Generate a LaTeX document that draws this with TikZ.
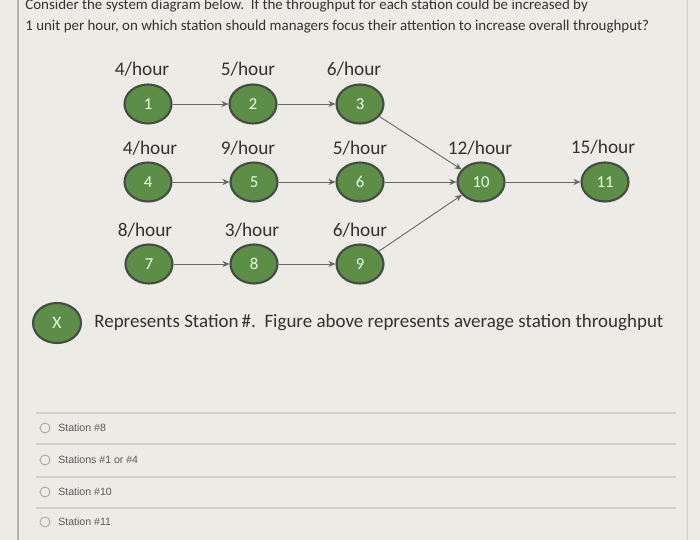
\documentclass[tikz,border=0pt]{standalone}
\usepackage{fontspec}
\setmainfont{Carlito}
\newfontfamily\optfont{Liberation Sans}
\usetikzlibrary{arrows.meta, positioning, shapes.geometric}

\definecolor{stationgreen}{RGB}{92,142,72}
\definecolor{stationrim}{RGB}{70,75,68}
\definecolor{paper}{RGB}{236,235,229}
\definecolor{ink}{RGB}{50,50,50}
\definecolor{rule}{RGB}{210,210,205}

\tikzset{
  station/.style={ellipse, draw=stationrim, line width=1.2pt, fill=stationgreen,
    minimum width=0.94cm, minimum height=0.78cm, inner sep=0pt,
    text=green!10!white, font=\fontsize{9.5}{10}\selectfont},
  rate/.style={text=ink, font=\fontsize{11}{12}\selectfont},
  flow/.style={draw=gray!80!black, line width=0.5pt, -{Stealth[length=4pt, width=3.5pt]}},
  option/.style={anchor=west, text=gray!70!black, font=\optfont\fontsize{6}{7}\selectfont},
  radio/.style={circle, draw=gray!70, line width=0.5pt, minimum size=0.2cm, inner sep=0pt}
}

\begin{document}
\begin{tikzpicture}[x=0.02cm, y=-0.02cm]

% page background and panel border
\fill[paper] (0,0) rectangle (700,540);
\useasboundingbox (0,0) rectangle (700,540);
\draw[gray!60, line width=0.8pt] (18,0) -- (18,540);
\draw[gray!40, line width=0.5pt] (687,0) -- (687,540);

% question text
\node[anchor=base west, text=ink, font=\fontsize{8.5}{11.9}\selectfont, inner sep=0pt] (question) at (25,10)
  {Consider the system diagram below.\ \ If the throughput for each station could be increased by};
\node[anchor=base west, text=ink, font=\fontsize{8.5}{11.9}\selectfont, inner sep=0pt] (question2) at (25,31)
  {1 unit per hour, on which station should managers focus their attention to increase overall throughput?};

% stations, row by row
\node[station] (s1) at (148,104) {1};
\node[station] (s2) at (253,104) {2};
\node[station] (s3) at (360,104) {3};

\node[station] (s4) at (148,182) {4};
\node[station] (s5) at (254,182) {5};
\node[station] (s6) at (360,182) {6};
\node[station] (s10) at (481,182) {10};
\node[station] (s11) at (605,182) {11};

\node[station] (s7) at (149,264) {7};
\node[station] (s8) at (254,264) {8};
\node[station] (s9) at (360,264) {9};

% throughput labels
\node[rate] (r1) at (142,69) {4/hour};
\node[rate] (r2) at (248,69) {5/hour};
\node[rate] (r3) at (354,69) {6/hour};
\node[rate] (r4) at (150,148) {4/hour};
\node[rate] (r5) at (248,148) {9/hour};
\node[rate] (r6) at (360,148) {5/hour};
\node[rate] (r10) at (480,148) {12/hour};
\node[rate] (r11) at (603,147) {15/hour};
\node[rate] (r7) at (145,230) {8/hour};
\node[rate] (r8) at (252,230) {3/hour};
\node[rate] (r9) at (360,230) {6/hour};

% flows between stations
\draw[flow] (s1) -- (s2);
\draw[flow] (s2) -- (s3);
\draw[flow] (s4) -- (s5);
\draw[flow] (s5) -- (s6);
\draw[flow] (s7) -- (s8);
\draw[flow] (s8) -- (s9);
\draw[flow] (s3) -- (s10);
\draw[flow] (s6) -- (s10);
\draw[flow] (s9) -- (s10);
\draw[flow] (s10) -- (s11);

% legend
\node[station, minimum width=0.96cm, minimum height=0.8cm, font=\fontsize{10}{11}\selectfont] (key) at (57,323) {X};
\node[anchor=west, text=ink, font=\fontsize{10.8}{12}\selectfont, inner sep=0pt] (keytext) at (94,323)
  {Represents Station\,\#.\ \ Figure above represents average station throughput};

% answer options
\foreach \y in {413,444,477,508}
  \draw[rule, line width=0.6pt] (36,\y) -- (676,\y);

\node[radio] (c1) at (45,428) {};
\node[radio] (c2) at (45,460) {};
\node[radio] (c3) at (45,492) {};
\node[radio] (c4) at (45,522) {};
\node[option, right=1pt of c1] (o1) {Station \#8};
\node[option, right=1pt of c2] (o2) {Stations \#1 or \#4};
\node[option, right=1pt of c3] (o3) {Station \#10};
\node[option, right=1pt of c4] (o4) {Station \#11};

\end{tikzpicture}
\end{document}
